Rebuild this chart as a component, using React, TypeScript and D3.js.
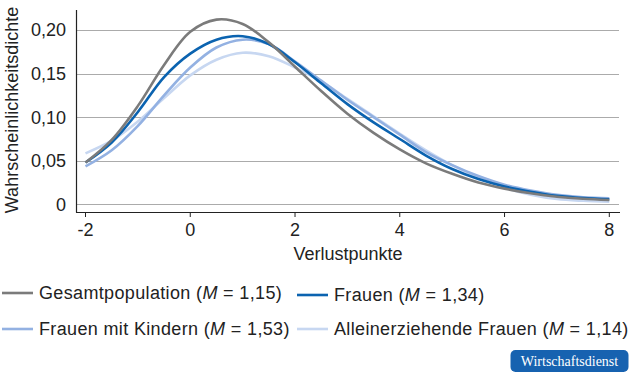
import React from "react";
import * as d3 from "d3";

const xs = [-2, -1.5, -1, -0.5, 0, 0.5, 1, 1.5, 2, 2.5, 3, 3.5, 4, 4.5, 5, 5.5, 6, 6.5, 7, 7.5, 8];
const gesamt = [0.048, 0.074, 0.113, 0.16, 0.198, 0.212, 0.207, 0.186, 0.158, 0.13, 0.104, 0.082, 0.063, 0.047, 0.035, 0.025, 0.018, 0.0126, 0.0087, 0.0064, 0.005];
const frauen = [0.048, 0.071, 0.106, 0.146, 0.173, 0.189, 0.193, 0.184, 0.163, 0.139, 0.115, 0.094, 0.075, 0.056, 0.0405, 0.029, 0.0205, 0.0145, 0.0098, 0.0072, 0.0057];
const kinder = [0.0435, 0.062, 0.09, 0.125, 0.157, 0.18, 0.189, 0.184, 0.164, 0.142, 0.12, 0.1, 0.08, 0.06, 0.045, 0.0325, 0.0225, 0.0158, 0.0108, 0.008, 0.0069];
const allein = [0.0585, 0.073, 0.095, 0.122, 0.148, 0.166, 0.174, 0.17, 0.157, 0.141, 0.121, 0.101, 0.081, 0.062, 0.045, 0.031, 0.019, 0.011, 0.006, 0.004, 0.003];

const seriesNames = ["Gesamtpopulation", "Frauen", "Frauen mit Kindern", "Alleinerziehende Frauen"];
const seriesMeans = ["1,15", "1,34", "1,53", "1,14"];
const seriesValues = [gesamt, frauen, kinder, allein];
const seriesColors = ["#7b7b7b", "#0b63b0", "#93b1e2", "#c7d7f1"];
const drawOrder = [3, 2, 1, 0];

const yTicks = [0, 0.05, 0.1, 0.15, 0.2];
const yTickLabels = ["0", "0,05", "0,10", "0,15", "0,20"];
const xTicks = [-2, 0, 2, 4, 6, 8];

const FONT = "'Liberation Sans', Arial, Helvetica, sans-serif";

export default function App() {
  const x = d3.scaleLinear().domain([-2, 8]).range([85.5, 609.3]);
  const y = d3.scaleLinear().domain([0, 0.2]).range([204.3, 30.1]);
  const line = d3
    .line<number>()
    .x((_, i) => x(xs[i]))
    .y((d) => y(d))
    .curve(d3.curveCatmullRom.alpha(0.5));

  const legendPos = [
    { lx: 2, ly: 293 },
    { lx: 297, ly: 295 },
    { lx: 2, ly: 329 },
    { lx: 297, ly: 329 },
  ];

  return (
    <svg
      width={630}
      height={375}
      style={{ position: "absolute", left: 0, top: 0, background: "#fff" }}
      fontFamily={FONT}
    >
      {yTicks.map((t) => (
        <line key={"g" + t} x1={76} x2={619} y1={Math.round(y(t)) + 0.5} y2={Math.round(y(t)) + 0.5} stroke="#ababab" strokeWidth={1} />
      ))}
      {yTicks.map((t, i) => (
        <text key={"yl" + t} x={66} y={y(t)} dy="0.35em" textAnchor="end" fontSize={18} fill="#222">
          {yTickLabels[i]}
        </text>
      ))}
      <line x1={76.5} x2={76.5} y1={10} y2={212.5} stroke="#222" strokeWidth={1.2} />
      <line x1={76} x2={620} y1={212.5} y2={212.5} stroke="#222" strokeWidth={1.2} />
      {xTicks.map((t) => (
        <g key={"xt" + t}>
          <line x1={x(t)} x2={x(t)} y1={212} y2={217} stroke="#222" strokeWidth={1} />
          <text x={x(t)} y={236} textAnchor="middle" fontSize={18} fill="#222">
            {t < 0 ? "-" + Math.abs(t) : String(t)}
          </text>
        </g>
      ))}
      <text x={348} y={260} textAnchor="middle" fontSize={18} fill="#222">
        Verlustpunkte
      </text>
      <text transform="translate(18,110) rotate(-90)" textAnchor="middle" fontSize={18} fill="#222">
        Wahrscheinlichkeitsdichte
      </text>
      {drawOrder.map((k) => (
        <path key={"s" + k} d={line(seriesValues[k]) || ""} fill="none" stroke={seriesColors[k]} strokeWidth={2.6} />
      ))}
      {seriesNames.map((n, i) => (
        <g key={"lg" + i}>
          <line x1={legendPos[i].lx} x2={legendPos[i].lx + 31} y1={legendPos[i].ly} y2={legendPos[i].ly} stroke={seriesColors[i]} strokeWidth={2.6} />
          <text x={legendPos[i].lx + 37} y={legendPos[i].ly} dy="0.35em" fontSize={18} letterSpacing={0.35} fill="#222">
            {n} (<tspan fontStyle="italic">M</tspan> = {seriesMeans[i]})
          </text>
        </g>
      ))}
      <rect x={510.5} y={350} width={118} height={22} rx={5} fill="#1762b0" />
      <text x={569.5} y={365.5} textAnchor="middle" fontSize={14} fill="#fff" fontFamily="'Liberation Serif', 'DejaVu Serif', serif">
        Wirtschaftsdienst
      </text>
    </svg>
  );
}
